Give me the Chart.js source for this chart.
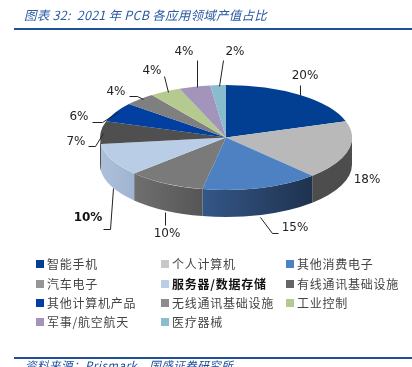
<!DOCTYPE html>
<html><head><meta charset="utf-8">
<style>
html,body{margin:0;padding:0;background:#fff;width:412px;height:367px;overflow:hidden}
#wrap{position:relative;width:412px;height:367px;overflow:hidden}
canvas{position:absolute;left:0;top:0}
.t{position:absolute;white-space:nowrap}
#title{left:24px;top:6px;font:italic 12.5px "Noto Sans CJK SC","DejaVu Sans";color:#2a5aa3;letter-spacing:.25px;line-height:18px}
#src{left:25px;top:357px;font:italic 11.5px "Noto Sans CJK SC","DejaVu Sans";color:#1f4e9a;letter-spacing:.5px;line-height:16px}
.rule{position:absolute;left:14px;width:398px;background:#1f4f96}
.lg{position:absolute;font:12px "Noto Sans CJK SC";color:#444;letter-spacing:.75px;line-height:16px;white-space:nowrap}
.sw{position:absolute;width:8px;height:8px}
</style></head><body>
<div id="wrap">
<canvas id="c" width="412" height="367"></canvas>
<div class="t" id="title">图表 32:&nbsp; 2021 年 PCB 各应用领域产值占比</div>
<div class="rule" style="top:28px;height:2px"></div>
<div class="rule" style="top:357px;height:1.5px"></div>
<div class="t" id="src">资料来源：Prismark，国盛证券研究所</div>
</div>
<script src="https://cdn.jsdelivr.net/npm/chart.js@4"></script>
<script>
const categories=["智能手机","个人计算机","其他消费电子","汽车电子","服务器/数据存储","有线通讯基础设施","其他计算机产品","无线通讯基础设施","工业控制","军事/航空航天","医疗器械"];
const values=[20,18,15,10,10,7,6,4,4,4,2];
const labels=["20%","18%","15%","10%","10%","7%","6%","4%","4%","4%","2%"];
const topColors=["#023f92","#b9b9b9","#4d81c2","#7a7a7a","#b9cee6","#4f4f4f","#013fa0","#7f7f7f","#b5ca8f","#a294bb","#8abccf"];
const sideFrom=["#023f92","#4d4d4d","#345787","#6f6f6f","#adc0db","#4f4f4f","#013fa0","#7f7f7f","#b5ca8f","#a294bb","#8abccf"];
const sideTo=["#023f92","#4d4d4d","#1f324f","#565656","#9fb4d0","#4f4f4f","#013fa0","#7f7f7f","#b5ca8f","#a294bb","#8abccf"];
const legendSwatch=["#023f92","#c8c8c8","#4d81c2","#969696","#b9cee6","#666666","#0240a0","#8c8c8c","#b5ca8f","#a294bb","#8abccf"];

// layout (pixels on the page)
const CX=226,CY=137.5,RX=126,RY=52.5,DEPTH=27;
const labelPos=[[305,76],[367,180],[295,228],[167,234],[88,218],[76,142],[79,117],[116,92],[152,71],[184,52],[235,52]];
const leaders=[[[300,95],[300,85]],[],[[260,217],[272,233],[278,233]],[[165,212],[165,225]],[[113,188],[110,229],[103,229]],[[103,133],[95,146],[88,146]],[[118,112],[102,122],[92,122]],[[143,99],[137,96],[129,96]],[[168,92],[164,76]],[[197,87],[197,60]],[[219,86],[223,60]]];

const yScale=RY/RX;
const pie3d={
 id:'pie3d',
 beforeDatasetsDraw(ch){
  const ctx=ch.ctx,arcs=ch.getDatasetMeta(0).data;
  const a0=arcs[0], ox=a0.x, oy=a0.y;
  const toPage=(ang,dy)=>[CX+RX*Math.cos(ang),CY+RY*Math.sin(ang)+dy];
  ctx.save();
  arcs.forEach((a,i)=>{
    const s=Math.max(a.startAngle,0), e=Math.min(a.endAngle,Math.PI);
    if(e<=s)return;
    const pS=toPage(s,0),pE=toPage(e,0);
    const g=ctx.createLinearGradient(Math.min(pS[0],pE[0]),0,Math.max(pS[0],pE[0]),0);
    g.addColorStop(0,sideFrom[i]);g.addColorStop(1,sideTo[i]);
    ctx.fillStyle=g;
    ctx.beginPath();
    ctx.ellipse(CX,CY,RX,RY,0,s,e,false);
    ctx.ellipse(CX,CY+DEPTH,RX,RY,0,e,s,true);
    ctx.closePath();ctx.fill();
  });
  ctx.restore();
  ctx.save();
  ctx.translate(CX,CY);ctx.scale(1,yScale);ctx.translate(-ox,-oy);
 },
 afterDatasetsDraw(ch){
  const ctx=ch.ctx;
  ctx.restore();
  ctx.save();
  ctx.strokeStyle='#222';ctx.lineWidth=1;
  leaders.forEach(l=>{if(!l.length)return;ctx.beginPath();l.forEach((p,i)=>i?ctx.lineTo(p[0]+.5,p[1]+.5):ctx.moveTo(p[0]+.5,p[1]+.5));ctx.stroke();});
  ctx.textAlign='center';ctx.textBaseline='middle';
  labels.forEach((t,i)=>{
    ctx.font=(i===4?'bold ':'')+'12px "DejaVu Sans"';
    ctx.fillStyle=i===4?'#111':'#222';
    ctx.fillText(t,labelPos[i][0],labelPos[i][1]);
  });
  ctx.restore();
 }
};
new Chart(document.getElementById('c'),{
 type:'pie',
 data:{labels:categories,datasets:[{data:values,backgroundColor:topColors,borderWidth:0}]},
 options:{responsive:false,animation:false,rotation:0,
  layout:{padding:{left:100,right:60,top:0,bottom:115}},
  plugins:{legend:{display:false},tooltip:{enabled:false},title:{display:false}}},
 plugins:[pie3d]
});
const wrap=document.getElementById('wrap');
const colX=[36,161,286],rowY=[264,284,303,322];
categories.forEach((n,i)=>{
  const c=i%3,r=Math.floor(i/3);
  const sw=document.createElement('div');sw.className='sw';
  sw.style.cssText=`left:${colX[c]}px;top:${rowY[r]-4}px;background:${legendSwatch[i]}`;
  wrap.appendChild(sw);
  const d=document.createElement('div');d.className='lg';d.textContent=n;
  d.style.left=(colX[c]+11)+'px';d.style.top=(rowY[r]-8)+'px';
  if(i===4){d.style.fontWeight='bold';d.style.color='#111';}
  wrap.appendChild(d);
});
</script>
</body></html>
